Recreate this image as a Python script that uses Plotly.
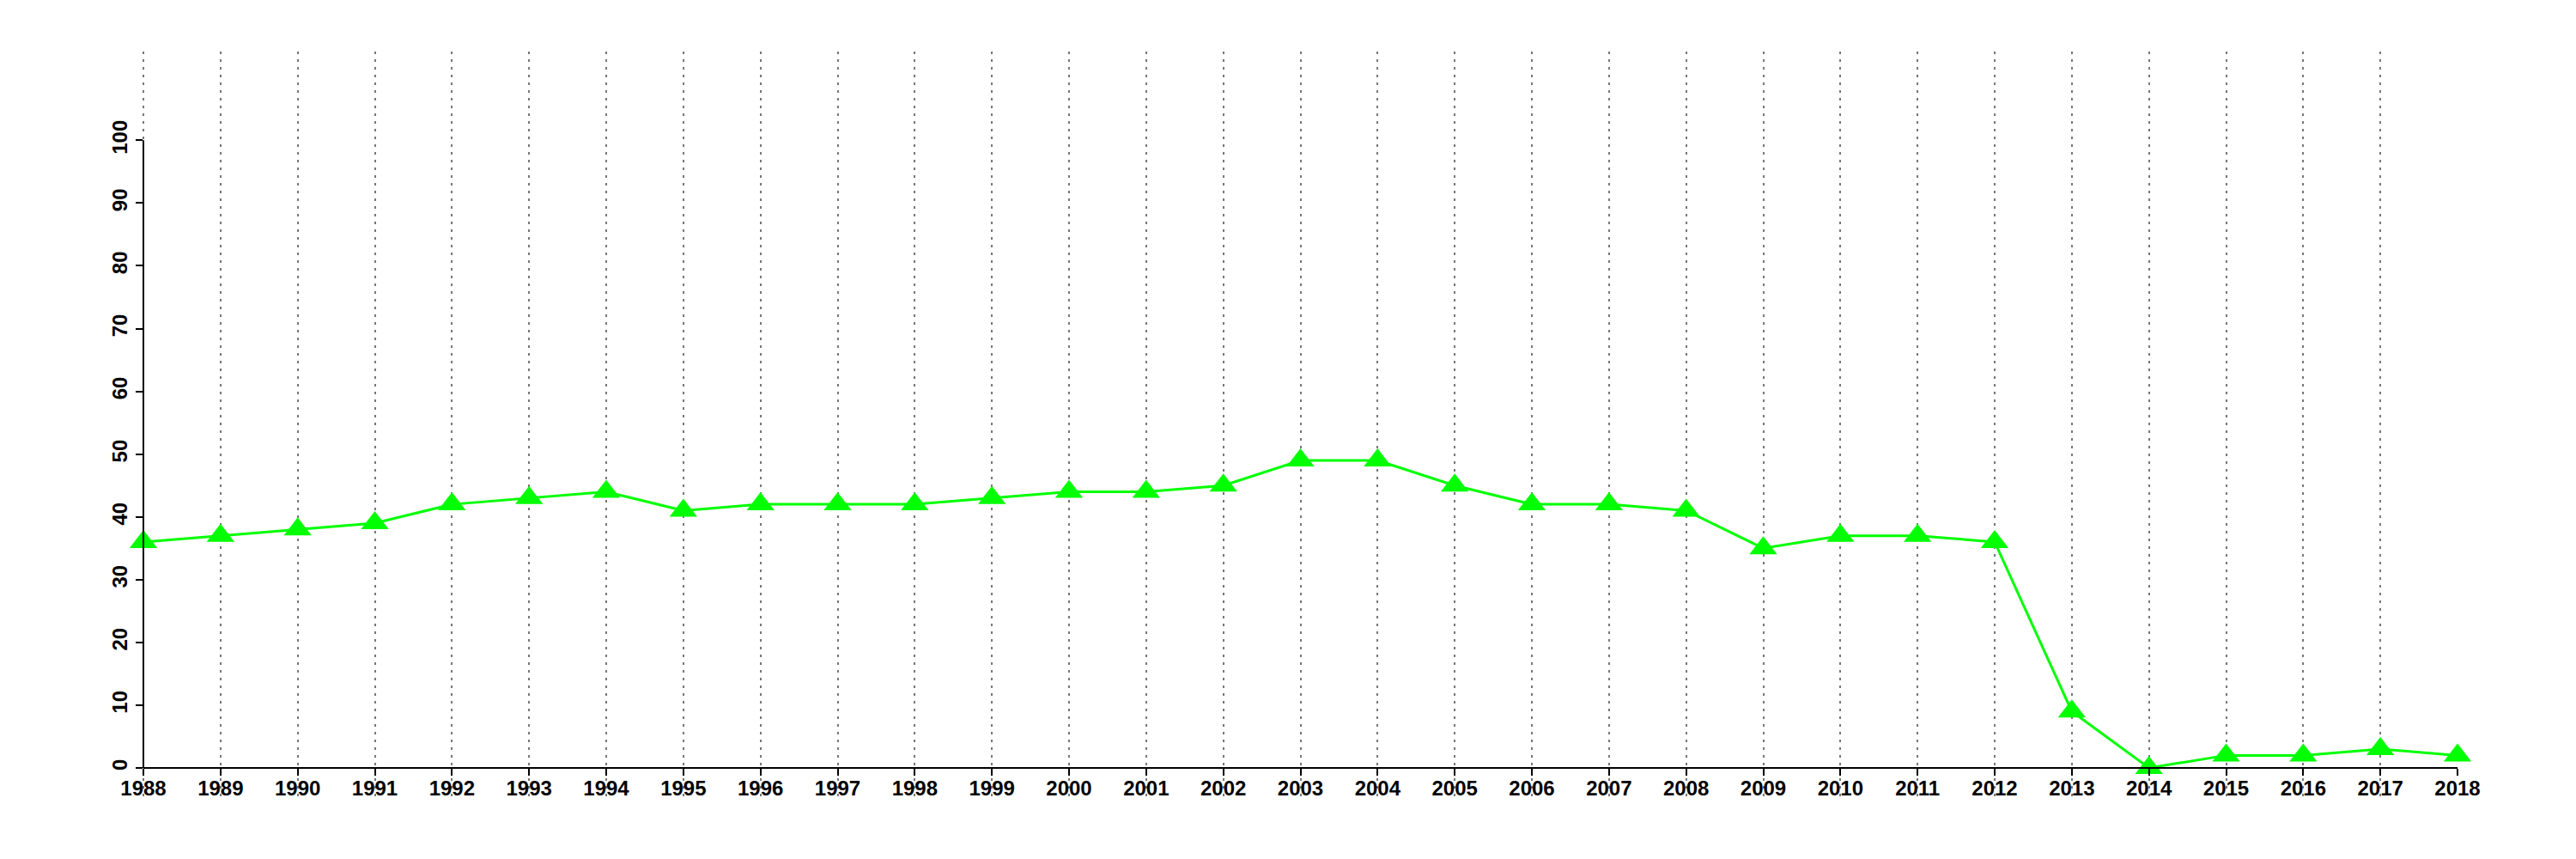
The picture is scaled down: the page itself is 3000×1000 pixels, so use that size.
import plotly.graph_objects as go

years = list(range(1988, 2019))
values = [36, 37, 38, 39, 42, 43, 44, 41, 42, 42, 42, 43, 44, 44, 45, 49, 49,
          45, 42, 42, 41, 35, 37, 37, 36, 9, 0, 2, 2, 3, 2]
y_ticks = list(range(0, 101, 10))

Y_MIN, Y_MAX = -4.516, 114.14
zero_pos = (0 - Y_MIN) / (Y_MAX - Y_MIN)

font = dict(family="Liberation Sans, Arial, sans-serif", size=24, color="black", weight="bold")
GRID = "#777777"
DASH = "3px,6px"

fig = go.Figure()
fig.add_trace(go.Scatter(
    x=years, y=values, mode="lines+markers",
    line=dict(color="#00FF00", width=3),
    marker=dict(symbol="triangle-up", size=28, color="#00FF00"),
    cliponaxis=False, showlegend=False,
))

fig.update_layout(
    width=2984, height=984,
    margin=dict(l=159, r=130, t=52, b=65),
    plot_bgcolor="white", paper_bgcolor="white",
    xaxis=dict(
        range=[years[0], years[-1]],
        tickvals=years, ticktext=[str(y) for y in years],
        showgrid=True, gridcolor=GRID, gridwidth=2, griddash=DASH,
        zeroline=False,
        showline=True, linecolor="black", linewidth=2,
        anchor="free", position=zero_pos,
        ticks="outside", ticklen=8, tickwidth=2, tickcolor="black",
        tickfont=font, ticklabelstandoff=-6,
    ),
    yaxis=dict(
        range=[Y_MIN, Y_MAX],
        tickvals=y_ticks, ticktext=[str(v) for v in y_ticks],
        tickangle=-90,
        showgrid=False, zeroline=False, showline=False,
        ticks="outside", ticklen=8, tickwidth=2, tickcolor="black",
        tickfont=font,
    ),
    shapes=[
        dict(type="line", xref="paper", yref="paper", x0=0, x1=0, y0=0, y1=1,
             line=dict(color=GRID, width=2, dash=DASH), layer="below"),
        dict(type="line", xref="paper", yref="y", x0=0, x1=0, y0=0, y1=100,
             line=dict(color="black", width=2)),
    ],
)

fig.write_html("out.html")
